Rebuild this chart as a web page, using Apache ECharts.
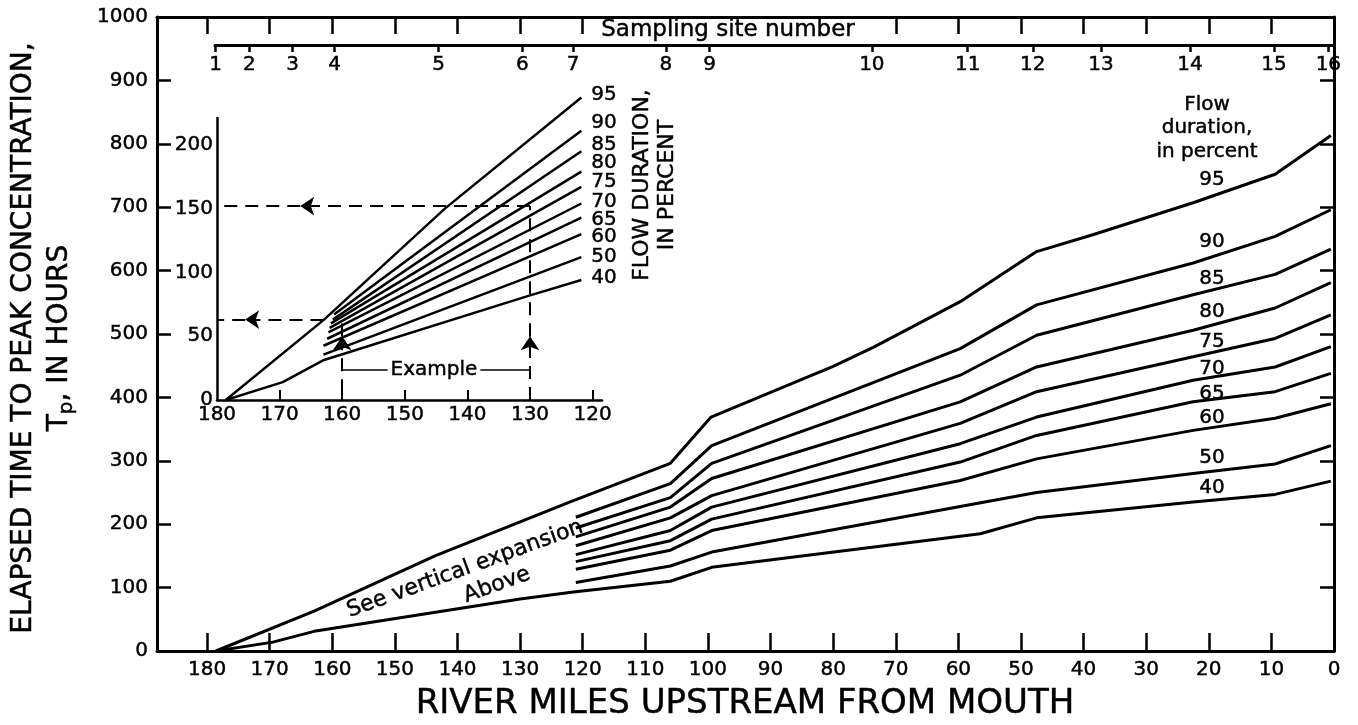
<!DOCTYPE html>
<html><head><meta charset="utf-8">
<script src="https://cdn.jsdelivr.net/npm/echarts@6/dist/echarts.min.js"></script>
<style>html,body{margin:0;padding:0;background:#fff}#c{width:1358px;height:725px}</style>
</head><body><div id="c"></div>
<script>
// ---------------- data ----------------
const xTickMiles = [180,170,160,150,140,130,120,110,100,90,80,70,60,50,40,30,20,10,0];
const topTickMiles = [180,170,160,150,140,130,120,70,60,50,40,30,20,10];
const insetTickMiles = [170,160,150,140,130,120];
const insetLabelMiles = [180,170,160,150,140,130,120];
const insetHourTicks = [0,50,100,150,200];
const siteNumbers = ['1','2','3','4','5','6','7','8','9','10','11','12','13','14','15','16'];
const siteMiles = [178.6,173.2,166.3,159.6,143.0,129.6,121.5,106.7,99.7,73.8,58.5,48.1,37.2,23.0,9.6,0.9];
const flowDurations = ['95','90','85','80','75','70','65','60','50','40'];

// main chart: [river mile, hours]
const main95 = [[178.6,0],[162.9,63],[143.6,150],[121.8,236],[106,296],[99.5,369],[80,449],[73.6,479],[59.7,551],[47.5,630],[38.4,657],[22.5,707],[9.4,752],[0.5,813]];
const main90 = [[121.1,211],[106,264],[99.4,324],[59.7,477],[47.5,546],[22.5,612],[9.4,654],[0.5,696]];
const main85 = [[121.1,194],[106,242],[99.4,296],[59.7,435],[47.5,498],[22.5,562],[9.4,594],[0.5,634]];
const main80 = [[121.1,180],[106,227],[99.4,272],[59.7,393],[47.5,448],[22.5,506],[9.4,541],[0.5,581]];
const main75 = [[121.1,166],[106,210],[99.4,245],[59.7,359],[47.5,409],[22.5,464],[9.4,493],[0.5,530]];
const main70 = [[121.1,152],[106,190],[99.4,227],[59.7,327],[47.5,369],[22.5,427],[9.4,448],[0.5,480]];
const main65 = [[121.1,141],[106,174],[99.4,208],[59.7,298],[47.5,340],[22.5,393],[9.4,409],[0.5,438]];
const main60 = [[121.1,129],[106,159],[99.4,190],[59.7,269],[47.5,303],[22.5,348],[9.4,367],[0.5,390]];
const main50 = [[121.1,108],[106,134],[99.4,156],[59.7,228],[47.5,250],[22.5,280],[9.4,295],[0.5,324]];
const main40 = [[178.6,0],[169.5,14],[162.9,31],[130,82],[121.5,93],[106,110],[99.4,132],[56.5,185],[47.5,210],[22.5,235],[9.4,247],[0.5,268]];

// inset (vertical expansion): [river mile, hours]
const inset95 = [[178.6,0],[162.9,63],[143.6,150],[121.8,237]];
const inset90 = [[161.3,67],[121.8,211]];
const inset85 = [[161.5,63],[121.8,195]];
const inset80 = [[161.8,60],[121.8,179]];
const inset75 = [[162.0,56.5],[121.8,167]];
const inset70 = [[162.2,53],[121.8,154]];
const inset65 = [[162.4,48],[121.8,143]];
const inset60 = [[163.0,42.5],[121.8,130]];
const inset50 = [[163.0,35.5],[121.8,112]];
const inset40 = [[178.6,0],[169.5,14],[162.9,31.4],[130,82],[121.8,94]];

// example reading
const exampleMiles = [160,130];
const exampleHours = [63,152];
const exampleBracketHours = 24;

// ---------------- chart ----------------
const F = 'DejaVu Sans';
const K = '#000';
const TB = 0.45; // slight text weight like the scanned original
const chart = echarts.init(document.getElementById('c'), null, {renderer:'canvas'});
const aLine = {show:true, onZero:false, lineStyle:{color:K, width:3}};
const lbl = (extra)=>Object.assign({fontFamily:F, fontSize:20, color:K, textBorderColor:K, textBorderWidth:TB}, extra);

const mainSets = [main95,main90,main85,main80,main75,main70,main65,main60,main50,main40];
const insetSets = [inset95,inset90,inset85,inset80,inset75,inset70,inset65,inset60,inset50,inset40];

const series = [];
mainSets.forEach((d,i)=>series.push({
  name:'main '+flowDurations[i], type:'line', xAxisIndex:0, yAxisIndex:0, data:d,
  symbol:'none', lineStyle:{color:K,width:3}, silent:true
}));
insetSets.forEach((d,i)=>series.push({
  name:'inset '+flowDurations[i], type:'line', xAxisIndex:2, yAxisIndex:2, data:d, clip:false,
  symbol:'none', lineStyle:{color:K,width:2.5}, silent:true
}));

// dashed example guides (arrow segments)
const arrowMileH1 = 166.7, arrowMileH2 = 175.5, arrowHourV = 50;
series.push({
  type:'lines', coordinateSystem:'cartesian2d', xAxisIndex:2, yAxisIndex:2, silent:true,
  symbol:['none','arrow'], symbolSize:[9,14],
  lineStyle:{color:K,width:2,type:[13,8],opacity:1},
  data:[
    {coords:[[exampleMiles[1],exampleHours[1]],[arrowMileH1,exampleHours[1]]]},
    {coords:[[163,exampleHours[0]],[arrowMileH2,exampleHours[0]]]},
    {coords:[[exampleMiles[1],0],[exampleMiles[1],arrowHourV]]},
    {coords:[[exampleMiles[0],6],[exampleMiles[0],arrowHourV]]}
  ]
});
series.push({
  type:'lines', coordinateSystem:'cartesian2d', xAxisIndex:2, yAxisIndex:2, silent:true,
  symbol:'none',
  lineStyle:{color:K,width:2,type:[13,8],opacity:1},
  data:[
    {coords:[[arrowMileH1,exampleHours[1]],[180,exampleHours[1]]]},
    {coords:[[arrowMileH2,exampleHours[0]],[180,exampleHours[0]]]},
    {coords:[[exampleMiles[1],arrowHourV],[exampleMiles[1],exampleHours[1]]]},
    {coords:[[exampleMiles[0],arrowHourV],[exampleMiles[0],60]]}
  ]
});
series.push({
  type:'lines', coordinateSystem:'cartesian2d', xAxisIndex:2, yAxisIndex:2, silent:true,
  symbol:'none', lineStyle:{color:K,width:1.6,type:'solid',opacity:1},
  data:[{coords:[[exampleMiles[0],exampleBracketHours],[exampleMiles[1],exampleBracketHours]]}]
});

function txt(x,y,text,size,styleExtra,extra){
  return Object.assign({type:'text', x:x, y:y, z:100, silent:true,
    style:Object.assign({text:text, fontFamily:F, fontSize:size, fill:K, stroke:K, lineWidth:TB, textAlign:'center', textVerticalAlign:'middle'}, styleExtra||{})}, extra||{});
}

const mainLabelY = [180,242,279,312,342,369,394,418,458,488];
const insetLabelY = [95,123,145,163,182,202,220,237,257,278];
const graphics = [];
flowDurations.forEach((t,i)=>graphics.push(txt(1212, mainLabelY[i], t, 20)));
flowDurations.forEach((t,i)=>graphics.push(txt(604, insetLabelY[i], t, 20)));
graphics.push(txt(1207, 128, 'Flow\nduration,\nin percent', 20, {lineHeight:23.5}));
graphics.push(txt(655, 185, 'FLOW DURATION,\nIN PERCENT', 22, {lineHeight:25}, {rotation:Math.PI/2}));
graphics.push(txt(728, 30, 'Sampling site number', 23));
graphics.push(txt(434, 370, 'Example', 20, {backgroundColor:'#fff', padding:[0,3]}));
graphics.push(txt(465, 569, 'See vertical expansion', 22, {}, {rotation:20*Math.PI/180}));
graphics.push(txt(497, 585, 'Above', 22, {}, {rotation:20*Math.PI/180}));
graphics.push(txt(745, 704, 'RIVER MILES UPSTREAM FROM MOUTH', 34));
graphics.push(txt(42, 338, '{a|ELAPSED TIME TO PEAK CONCENTRATION,}\n{a|T}{s|p}{a|, IN HOURS}', 28,
  {rich:{a:{fontFamily:F, fontSize:28, lineHeight:36, fill:K}, s:{fontFamily:F, fontSize:20, lineHeight:36, fill:K, padding:[14,0,0,0]}}},
  {rotation:Math.PI/2}));

const option = {
  animation:false,
  backgroundColor:'#fff',
  grid:[
    {left:157, right:24, top:17, bottom:74},
    {left:217, top:118, width:385, height:282},
    {left:215, right:24, top:25, height:20}
  ],
  xAxis:[
    {gridIndex:0, type:'value', inverse:true, min:0, max:188, position:'bottom', axisLine:aLine,
     axisTick:{show:true, inside:true, length:18, lineStyle:{color:K,width:2.5}, customValues:xTickMiles},
     axisLabel:lbl({customValues:xTickMiles, margin:9}),
     splitLine:{show:false}},
    {gridIndex:0, type:'value', inverse:true, min:0, max:188, position:'top', axisLine:aLine,
     axisTick:{show:true, inside:true, length:17, lineStyle:{color:K,width:2.5}, customValues:topTickMiles},
     axisLabel:{show:false}, splitLine:{show:false}},
    {gridIndex:1, type:'value', inverse:true, min:118.5, max:180, position:'bottom', axisLine:{show:true,onZero:false,lineStyle:{color:K,width:2.5}},
     axisTick:{show:true, inside:true, length:10, lineStyle:{color:K,width:2}, customValues:insetTickMiles},
     axisLabel:lbl({customValues:insetLabelMiles, margin:5}),
     splitLine:{show:false}},
    {gridIndex:2, type:'value', inverse:true, min:0, max:178.7, position:'bottom', axisLine:aLine,
     axisTick:{show:true, inside:false, length:7, lineStyle:{color:K,width:2.5}, customValues:siteMiles},
     axisLabel:lbl({customValues:siteMiles, margin:10,
       formatter:(v)=>{const i=siteMiles.indexOf(v); return i>=0?siteNumbers[i]:'';}}),
     splitLine:{show:false}}
  ],
  yAxis:[
    {gridIndex:0, type:'value', min:0, max:1000, interval:100, position:'left', axisLine:aLine,
     axisTick:{show:true, inside:true, length:14, lineStyle:{color:K,width:2.5}},
     axisLabel:lbl({margin:9, formatter:(v)=>String(v)}), splitLine:{show:false}},
    {gridIndex:0, type:'value', min:0, max:1000, interval:100, position:'right', axisLine:aLine,
     axisTick:{show:true, inside:true, length:14, lineStyle:{color:K,width:2.5}},
     axisLabel:{show:false}, splitLine:{show:false}},
    {gridIndex:1, type:'value', min:0, max:221, position:'left', axisLine:{show:true,onZero:false,lineStyle:{color:K,width:2.5}},
     axisTick:{show:false}, axisLabel:lbl({customValues:insetHourTicks, margin:4, formatter:(v)=>String(v)}), splitLine:{show:false}},
    {gridIndex:2, type:'value', min:0, max:1, show:false}
  ],
  series:series,
  graphic:graphics
};
chart.setOption(option);
</script></body></html>
